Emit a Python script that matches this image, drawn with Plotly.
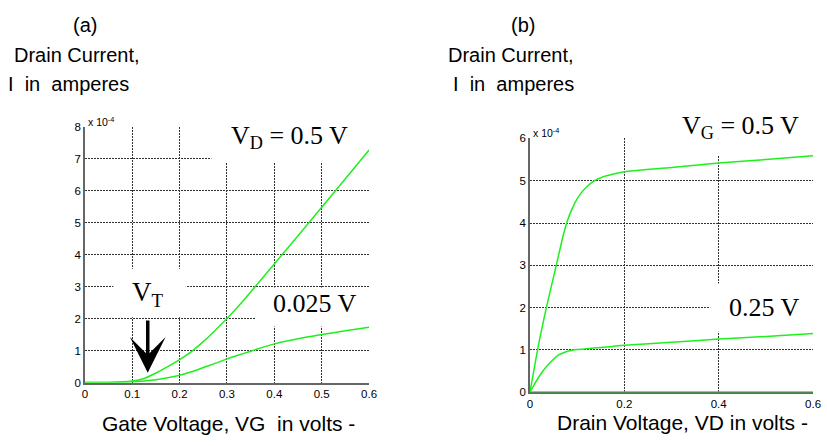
import plotly.graph_objects as go

# ---------------- data (currents in units of 1e-4 A) ----------------
vg = [0, 0.05, 0.1, 0.125, 0.15, 0.175, 0.2, 0.225, 0.25, 0.275, 0.3, 0.325,
      0.35, 0.375, 0.4, 0.45, 0.5, 0.55, 0.6]
id_vd_05 = [0, 0.005, 0.05, 0.13, 0.3, 0.5, 0.72, 0.97, 1.28, 1.63, 2.0, 2.4,
            2.83, 3.27, 3.71, 4.59, 5.48, 6.37, 7.27]
id_vd_0025 = [0, 0.003, 0.02, 0.05, 0.09, 0.15, 0.23, 0.34, 0.47, 0.6, 0.74, 0.86,
              0.98, 1.1, 1.21, 1.37, 1.5, 1.62, 1.73]

vd = [0, 0.01, 0.02, 0.03, 0.04, 0.05, 0.06, 0.07, 0.08, 0.09, 0.1, 0.11, 0.12,
      0.13, 0.14, 0.15, 0.175, 0.2, 0.3, 0.4, 0.5, 0.6]
id_vg_05 = [0, 0.62, 1.22, 1.75, 2.25, 2.72, 3.2, 3.68, 4.07, 4.35, 4.57, 4.73,
            4.85, 4.95, 5.02, 5.07, 5.15, 5.21, 5.31, 5.42, 5.5, 5.59]
id_vg_025 = [0, 0.2, 0.38, 0.54, 0.67, 0.78, 0.88, 0.93, 0.97, 0.995, 1.01, 1.02,
             1.03, 1.04, 1.05, 1.06, 1.085, 1.11, 1.18, 1.26, 1.32, 1.39]
vd_zero = [0, 0.6]
id_vg_0 = [0, 0]

xticks_a = [0, 0.1, 0.2, 0.3, 0.4, 0.5, 0.6]
xticklabels_a = ["0", "0.1", "0.2", "0.3", "0.4", "0.5", "0.6"]
yticks_a = [0, 1, 2, 3, 4, 5, 6, 7, 8]
xticks_b = [0, 0.2, 0.4, 0.6]
xticklabels_b = ["0", "0.2", "0.4", "0.6"]
yticks_b = [0, 1, 2, 3, 4, 5, 6]

GREEN = "#1ef01e"
W, H = 827, 446

fig = go.Figure()
curve = dict(color=GREEN, width=1.5, shape="spline", smoothing=0.6)
fig.add_trace(go.Scatter(x=vg, y=id_vd_05, mode="lines", line=curve,
                         xaxis="x", yaxis="y", showlegend=False))
fig.add_trace(go.Scatter(x=vg, y=id_vd_0025, mode="lines", line=curve,
                         xaxis="x", yaxis="y", showlegend=False))
fig.add_trace(go.Scatter(x=vd, y=id_vg_05, mode="lines", line=curve,
                         xaxis="x2", yaxis="y2", showlegend=False))
fig.add_trace(go.Scatter(x=vd, y=id_vg_025, mode="lines", line=curve,
                         xaxis="x2", yaxis="y2", showlegend=False))
fig.add_trace(go.Scatter(x=vd_zero, y=id_vg_0, mode="lines", line=dict(color=GREEN, width=2),
                         xaxis="x2", yaxis="y2", showlegend=False, cliponaxis=False))

def px_dom(a, b, total):
    return [a / total, b / total]

tickfont = dict(family="Liberation Sans, Arial", size=11.5, color="black")
grid = dict(showgrid=True, gridcolor="#333", gridwidth=1, griddash="2px,1px",
            zeroline=False, showline=True, linecolor="#666", linewidth=1.5,
            ticks="", tickfont=tickfont, fixedrange=True, layer="below traces")

fig.update_layout(
    width=W, height=H, margin=dict(l=0, r=0, t=0, b=0),
    paper_bgcolor="white", plot_bgcolor="white",
    xaxis=dict(domain=px_dom(83, 371, W), range=[0, 0.6], tickvals=xticks_a,
               ticktext=xticklabels_a, anchor="y", **grid),
    yaxis=dict(domain=[1 - 387 / H, 1 - 124 / H], range=[0, 8], tickvals=yticks_a,
               anchor="x", **grid),
    xaxis2=dict(domain=px_dom(534, 821, W), range=[0, 0.6], tickvals=xticks_b,
                ticktext=xticklabels_b, anchor="y2", **grid),
    yaxis2=dict(domain=[1 - 397 / H, 1 - 136 / H], range=[0, 6], tickvals=yticks_b,
                anchor="x2", **grid),
)

# white label boxes that hide the grid (drawn between grid and curves)
masks = [
    ("x", "y", 0.267, 0.65, 6.88, 8.5),
    ("x", "y", 0.06, 0.213, 2.04, 3.56),
    ("x", "y", 0.36, 0.65, 1.75, 2.97),
    ("x2", "y2", 0.278, 0.65, 5.6, 6.5),
    ("x2", "y2", 0.382, 0.65, 1.43, 2.57),
]
for xr, yr, x0, x1, y0, y1 in masks:
    fig.add_shape(type="rect", xref=xr, yref=yr, x0=x0, x1=x1, y0=y0, y1=y1,
                  fillcolor="white", line=dict(width=0), layer="between")

serif = "Liberation Serif, Times New Roman"
sans = "Liberation Sans, Arial"

def ann(text, x, y, xref="paper", yref="paper", size=21, family=sans, xanchor="center",
        yanchor="middle"):
    fig.add_annotation(text=text, x=x, y=y, xref=xref, yref=yref, showarrow=False,
                       font=dict(family=family, size=size, color="black"),
                       xanchor=xanchor, yanchor=yanchor)

# curve labels
ann("V<sub>D</sub> = 0.5 V", 0.432, 7.67, "x", "y", size=26, family=serif)
ann("V<sub>T</sub>", 0.133, 2.78, "x", "y", size=27, family=serif)
ann("0.025 V", 0.485, 2.48, "x", "y", size=26, family=serif)
ann("V<sub>G</sub> = 0.5 V", 747 / W, 1 - 124 / H, size=26, family=serif)
ann("0.25 V", 0.497, 2.0, "x2", "y2", size=26, family=serif)

# threshold arrow
fig.add_annotation(x=0.1327, y=0.31, ax=0.1327, ay=1.99, xref="x", yref="y",
                   axref="x", ayref="y", text="", showarrow=True, arrowhead=3,
                   arrowsize=1.7, arrowwidth=3.5, arrowcolor="black")

# exponent labels
ann("x 10<sup>-4</sup>", 84 / W, 1 - 119 / H, size=10.5, xanchor="left")
ann("x 10<sup>-4</sup>", 535 / W, 1 - 130 / H, size=10.5, xanchor="left")

# headings and axis titles
ann("(a)", 83 / W, 1 - 20 / H, size=20)
ann("Drain Current,", 9 / W, 1 - 50 / H, size=20, xanchor="left")
ann("I  in  amperes", 3 / W, 1 - 80 / H, size=20, xanchor="left")
ann("(b)", 527 / W, 1 - 20 / H, size=20)
ann("Drain Current,", 449 / W, 1 - 50 / H, size=20, xanchor="left")
ann("I  in  amperes", 454 / W, 1 - 80 / H, size=20, xanchor="left")
ann("Gate Voltage, VG  in volts -", 229 / W, 1 - 429 / H, size=21)
ann("Drain Voltage, VD in volts -", 689 / W, 1 - 428 / H, size=21)

fig.write_html("out.html")
